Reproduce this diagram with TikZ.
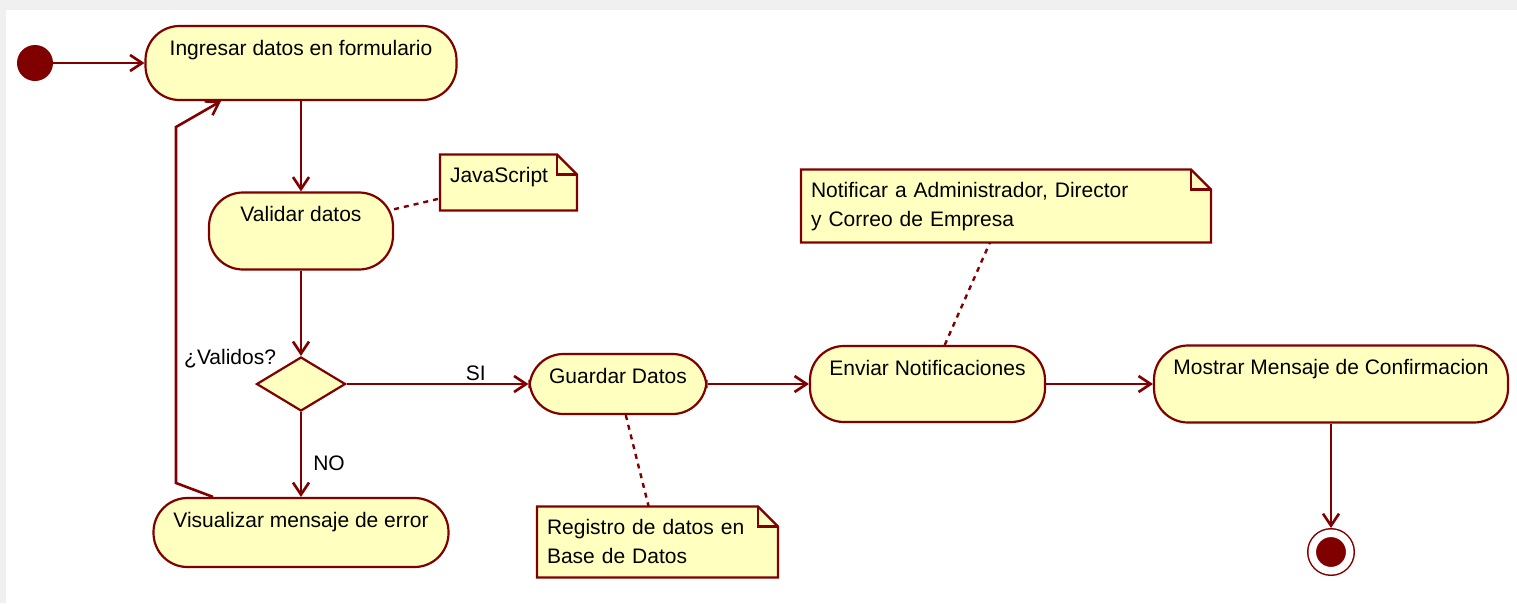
\documentclass[tikz,border=0pt]{standalone}
\usepackage{fontspec}
\setmainfont{Liberation Sans}
\usepackage{tikz}
\usetikzlibrary{arrows.meta}
\usetikzlibrary{positioning}
\usetikzlibrary{shapes.geometric}

\definecolor{rojo}{RGB}{128,0,0}
\definecolor{amarillo}{RGB}{255,255,192}
\definecolor{fondo}{RGB}{240,240,240}

\newcommand{\textofuente}{\fontsize{21}{29}\selectfont}

% outline of a note, with its folded corner
\newcommand{\doblez}[1]{%
  \fill[white] ([xshift=-20pt]#1.north east) -- (#1.north east)
    -- ([yshift=-20pt]#1.north east) -- cycle;
  \draw[borde] (#1.south west) -- (#1.north west) -- ([xshift=-20pt]#1.north east)
    -- ([yshift=-20pt]#1.north east) -- (#1.south east) -- cycle;
  \draw[borde] ([xshift=-20pt]#1.north east) |- ([yshift=-20pt]#1.north east);
}

\tikzset{
    actividad/.style={
           rectangle,
           rounded corners=34pt,
           draw=rojo, line width=2.2pt,
           fill=amarillo,
           inner xsep=0pt, inner ysep=0pt,
           text height=29pt,
           font=\textofuente,
           },
    nota/.style={
           rectangle,
           fill=amarillo,
           inner xsep=10pt, inner ysep=0pt, outer sep=0pt,
           text height=28pt,
           align=left,
           font=\textofuente,
           },
    decision/.style={
           diamond,
           draw=rojo, line width=2.2pt,
           fill=amarillo,
           minimum width=89pt, minimum height=54pt,
           inner sep=0pt,
           },
    borde/.style={draw=rojo, line width=2.2pt},
    flecha/.style={->, draw=rojo, line width=2.6pt},
    enlace/.style={draw=rojo, line width=2.4pt, dash pattern=on 5pt off 5pt},
    etiqueta/.style={font=\textofuente, inner sep=2pt, text=black},
}

\begin{document}
\begin{tikzpicture}
[
x=1pt, y=-1pt,
>={Straight Barb[length=12pt,width=16pt]}
]

 % frame
 \useasboundingbox (0,0) rectangle (1517,603);
 \fill[fondo] (0,0) rectangle (1517,10);
 \fill[fondo] (0,10) rectangle (6,603);

 % First node: Ingresar
 \node[actividad,
 minimum width=311pt,
 text depth=45pt] (INGRESAR) at (301,63)
 {%
Ingresar datos en formulario
 };

 % start point
 \node[circle, fill=rojo,
 minimum size=36pt, inner sep=0pt,
 left of=INGRESAR,
 node distance=266pt] (INICIO) {};

 \node[actividad,
 minimum width=184pt,
 text depth=48pt,
 below of=INGRESAR,
 node distance=168pt] (VALIDAR)
 {%
Validar datos
 };

 \node[decision,
 below of=VALIDAR,
 node distance=153pt,
 label={[etiqueta, anchor=south east]north west:¿Validos?}] (DECISION) {};

 \node[actividad,
 minimum width=295pt,
 text depth=40pt,
 below of=DECISION,
 node distance=148.5pt] (VISUALIZAR)
 {%
Visualizar mensaje de error
 };

 % Next node: Guardar
 \node[actividad,
 minimum width=177pt,
 text depth=31pt,
 right of=DECISION,
 node distance=317pt] (GUARDAR)
 {%
Guardar Datos
 };

 \node[actividad,
 minimum width=235pt,
 text depth=47pt,
 right of=GUARDAR,
 node distance=309.5pt] (ENVIAR)
 {%
Enviar Notificaciones
 };

 \node[actividad,
 minimum width=354pt,
 text depth=48pt,
 right of=ENVIAR,
 node distance=403.5pt] (MOSTRAR)
 {%
Mostrar Mensaje de Confirmacion
 };

 % end point
 \node[circle, draw=rojo, fill=rojo,
 line width=1.5pt, double=white, double distance=7.5pt,
 minimum size=37.5pt, inner sep=0pt, outer sep=5.25pt,
 below of=MOSTRAR,
 node distance=168pt] (FIN) {};

 % notes
 \node[nota,
 text width=117pt,
 text depth=28pt,
 right of=VALIDAR,
 node distance=207.5pt,
 yshift=48.5pt] (JS)
 {%
JavaScript
 };

 \node[nota,
 text width=221pt,
 text depth=43pt,
 below of=GUARDAR,
 node distance=158pt,
 xshift=39.5pt] (REGISTRO)
 {%
Registro de datos en\\
Base de Datos
 };

 \node[nota,
 text width=390pt,
 text depth=45pt,
 above of=ENVIAR,
 node distance=178pt,
 xshift=78.5pt] (NOTIFICAR)
 {%
Notificar a Administrador, Director\\
y Correo de Empresa
 };

 \doblez{JS}
 \doblez{REGISTRO}
 \doblez{NOTIFICAR}

 % way back after an error
 \coordinate (VUELTA1) at (176,483);
 \coordinate (VUELTA2) at (176,127);

 % draw the paths
 \path[flecha]
 (INICIO) edge (INGRESAR)
 (INGRESAR) edge (VALIDAR)
 (VALIDAR) edge (DECISION)
 (DECISION) edge node[etiqueta, right=9pt, pos=0.6] {NO} (VISUALIZAR)
 (DECISION) edge node[etiqueta, above, pos=0.71] {SI} (GUARDAR)
 (GUARDAR) edge (ENVIAR)
 (ENVIAR) edge (MOSTRAR)
 (MOSTRAR) edge (FIN)
 ;

 \draw[flecha] ([xshift=-88pt]VISUALIZAR.north) -- (VUELTA1) -- (VUELTA2)
 -- ([xshift=-80pt]INGRESAR.south);

 \path[enlace]
 (VALIDAR) edge (JS)
 (GUARDAR) edge (REGISTRO)
 (ENVIAR) edge (NOTIFICAR)
 ;

\end{tikzpicture}
\end{document}
